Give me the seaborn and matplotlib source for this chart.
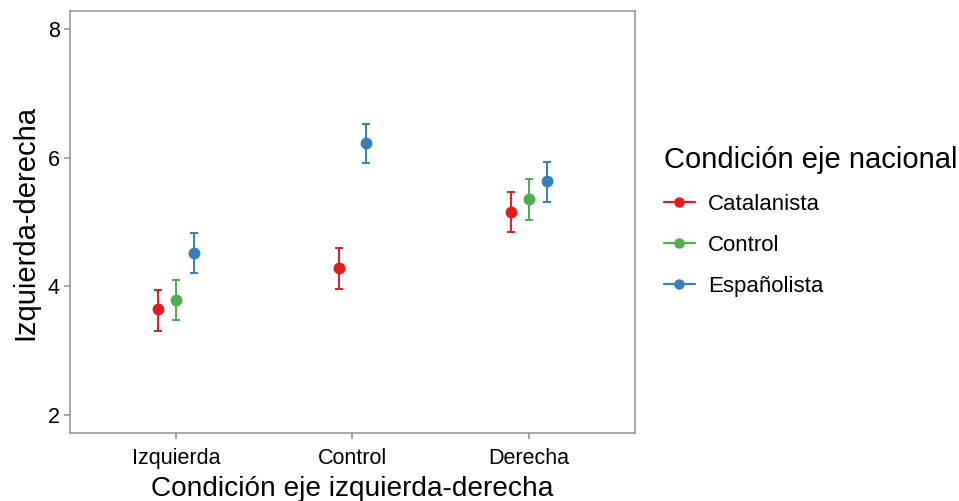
import seaborn as sns
import matplotlib.pyplot as plt
import matplotlib.lines as mlines
import numpy as np
import pandas as pd

# Data
categories = ['Izquierda', 'Control', 'Derecha']
groups = ['Catalanista', 'Control', 'Españolista']

cat_means = [3.64, 4.29, 5.16]
cat_low = [3.31, 3.96, 4.84]
cat_high = [3.94, 4.60, 5.46]

ctl_means = [3.79, np.nan, 5.35]
ctl_low = [3.47, np.nan, 5.03]
ctl_high = [4.09, np.nan, 5.66]

esp_means = [4.51, 6.22, 5.64]
esp_low = [4.20, 5.91, 5.31]
esp_high = [4.82, 6.53, 5.93]

rows = []
for g, m, lo, hi in [('Catalanista', cat_means, cat_low, cat_high),
                     ('Control', ctl_means, ctl_low, ctl_high),
                     ('Españolista', esp_means, esp_low, esp_high)]:
    for c, mv, lv, hv in zip(categories, m, lo, hi):
        rows.append({'cond_x': c, 'group': g, 'mean': mv, 'low': lv, 'high': hv})
df = pd.DataFrame(rows).dropna()

sns.set_theme(style="white")
plt.rcParams['font.family'] = ['Liberation Sans', 'DejaVu Sans']
plt.rcParams['text.color'] = 'black'
plt.rcParams['axes.labelcolor'] = 'black'

palette = dict(zip(groups, ['#E41A1C', '#4DAF4A', '#377EB8']))

fig = plt.figure(figsize=(9.59, 5.01), dpi=100)
ax = fig.add_axes([0.073, 0.135, 0.589, 0.843])

# dodge like ggplot position_dodge(width=0.3)
dodge_width = 0.3
for i, c in enumerate(categories):
    sub = df[df['cond_x'] == c]
    n = len(sub)
    for j, (_, r) in enumerate(sub.iterrows()):
        off = (j - (n - 1) / 2) * dodge_width / n
        ax.errorbar(i + off, r['mean'],
                    yerr=[[r['mean'] - r['low']], [r['high'] - r['mean']]],
                    fmt='o', color=palette[r['group']], ms=7.5, elinewidth=1.4,
                    capsize=2.6, capthick=1.4)

ax.set_xlim(-0.6, 2.6)
ax.set_ylim(1.71, 8.28)
ax.set_xticks(range(len(categories)))
ax.set_xticklabels(categories)
ax.set_yticks([2, 4, 6, 8])
ax.tick_params(axis='both', which='both', length=4.3, width=1.1, color='#8c8c8c',
               labelsize=15.5, labelcolor='black', pad=3, direction='out',
               bottom=True, left=True)
ax.tick_params(axis='x', pad=6.5)
for s in ax.spines.values():
    s.set_color('#999999')
    s.set_linewidth(1.2)

ax.set_xlabel('Condición eje izquierda-derecha', fontsize=20.2, labelpad=4.5)
ax.set_ylabel('Izquierda-derecha', fontsize=21, labelpad=6)

handles = [mlines.Line2D([], [], color=palette[g], marker='o', ms=6.5, lw=1.6, label=g)
           for g in groups]
leg = fig.legend(handles=handles, title='Condición eje nacional', loc='upper left',
                 bbox_to_anchor=(0.683, 0.726), frameon=False, fontsize=16,
                 title_fontsize=21, handlelength=1.4, handletextpad=0.6,
                 labelspacing=0.9, borderaxespad=0)
leg._legend_box.align = 'left'

fig.savefig('out.png', dpi=100)
